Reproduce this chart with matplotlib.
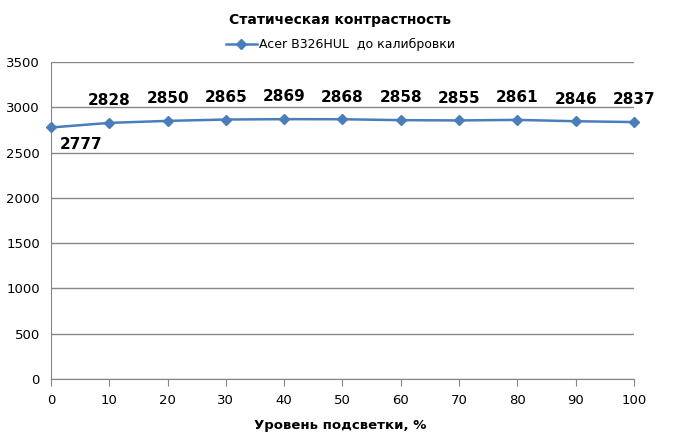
import matplotlib.pyplot as plt

levels = [0, 10, 20, 30, 40, 50, 60, 70, 80, 90, 100]
contrast = [2777, 2828, 2850, 2865, 2869, 2868, 2858, 2855, 2861, 2846, 2837]
series_name = "Acer B326HUL  до калибровки"

fig = plt.figure(figsize=(6.81, 4.37), dpi=100)
ax = fig.add_axes([0.0749, 0.1327, 0.856, 0.7254])

ax.plot(levels, contrast, color="#4A7EBB", lw=1.8, marker="D", ms=5,
        mfc="#4A7EBB", mec="#4A7EBB", label=series_name, clip_on=False, zorder=3)

for i, (x, y) in enumerate(zip(levels, contrast)):
    if i == 0:
        ax.annotate(str(y), (x, y), xytext=(22, -12), textcoords="offset points",
                    ha="center", va="center", fontsize=11, fontweight="bold")
    else:
        ax.annotate(str(y), (x, y), xytext=(0, 16), textcoords="offset points",
                    ha="center", va="center", fontsize=11, fontweight="bold")

ax.set_xlim(0, 100)
ax.set_ylim(0, 3500)
ax.set_xticks(levels)
ax.set_yticks(range(0, 3501, 500))
ax.yaxis.grid(True, color="#868686", lw=1)
ax.set_axisbelow(True)
for s in ["top", "right"]:
    ax.spines[s].set_visible(False)
for s in ["left", "bottom"]:
    ax.spines[s].set_color("#868686")
ax.tick_params(axis="x", direction="out", length=5, color="#868686", labelsize=9.5, pad=6)
ax.tick_params(axis="y", length=0, labelsize=9.5, pad=8)

fig.text(0.5, 0.027, "Уровень подсветки, %", ha="center", va="center",
         fontsize=9.5, fontweight="bold")
fig.text(0.5, 0.955, "Статическая контрастность", ha="center", va="center",
         fontsize=10, fontweight="bold")
fig.legend(loc="center", bbox_to_anchor=(0.5, 0.898), frameon=False, fontsize=9,
           handlelength=2.5, handletextpad=0.2)

fig.savefig("out.png", dpi=100)
